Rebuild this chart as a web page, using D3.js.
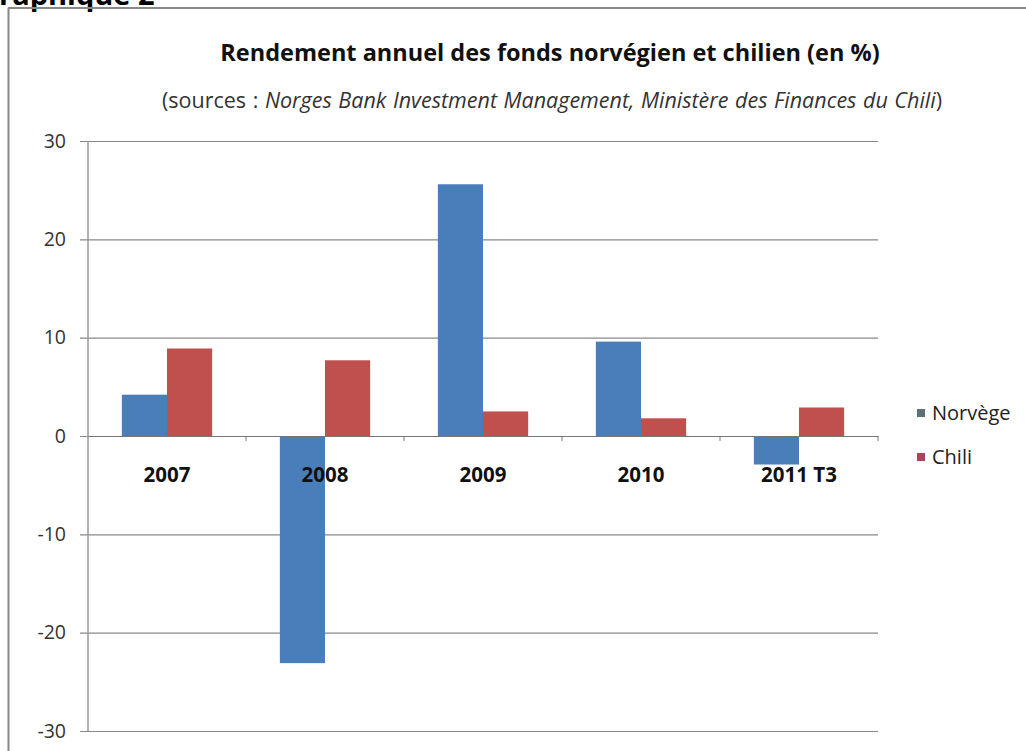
<!DOCTYPE html>
<html>
<head>
<meta charset="utf-8">
<script src="https://cdn.jsdelivr.net/npm/d3@7"></script>
<style>
  html, body { margin: 0; padding: 0; background: #fff; }
  svg { display: block; font-family: "Open Sans", "Lato", sans-serif; }
</style>
</head>
<body>
<svg id="chart" width="1026" height="751"></svg>
<script>
// Annual returns (%) of the Norwegian and Chilean sovereign funds
const categories = ["2007", "2008", "2009", "2010", "2011 T3"];
const seriesNames = ["Norvège", "Chili"];
const norvege = [4.2, -23.1, 25.6, 9.6, -2.9];
const chili = [8.9, 7.7, 2.5, 1.8, 2.9];
const yTicks = [30, 20, 10, 0, -10, -20, -30];

const colors = { "Norvège": "#4a7ebb", "Chili": "#c0504d" };
const legendColors = { "Norvège": "#5d7173", "Chili": "#a8445e" };

const svg = d3.select("#chart");
const plot = { left: 88, right: 878, top: 141, bottom: 731 };

// Outer frame of the figure and the caption above it
svg.append("text")
  .attr("x", -22).attr("y", 5)
  .attr("font-size", 29).attr("font-weight", "bold").attr("fill", "#000")
  .text("Graphique 2");
svg.append("line").attr("x1", 8).attr("x2", 1026).attr("y1", 8).attr("y2", 8)
  .attr("stroke", "#888").attr("stroke-width", 2);
svg.append("line").attr("x1", 8.5).attr("x2", 8.5).attr("y1", 8).attr("y2", 751)
  .attr("stroke", "#888").attr("stroke-width", 2);

// Title and sources
svg.append("text")
  .attr("x", 550).attr("y", 61).attr("text-anchor", "middle")
  .attr("font-size", 23.5).attr("font-weight", "bold").attr("fill", "#111")
  .text("Rendement annuel des fonds norvégien et chilien (en %)");

const sub = svg.append("text")
  .attr("x", 552).attr("y", 108).attr("text-anchor", "middle")
  .attr("font-size", 21.5).attr("word-spacing", 1).attr("fill", "#333");
sub.append("tspan").text("(sources : ");
sub.append("tspan").attr("font-style", "italic").text("Norges Bank Investment Management, Ministère des Finances du Chili");
sub.append("tspan").text(")");

// Scales
const y = d3.scaleLinear().domain([-30, 30]).range([plot.bottom, plot.top]);
const x0 = d3.scaleBand().domain(categories).range([plot.left, plot.right]).paddingInner(0).paddingOuter(0);
// gap width of 150% between groups: bars take 2 / 3.5 of each slot
const inner = 2 / 3.5;
const x1 = d3.scaleBand().domain(seriesNames)
  .range([x0.bandwidth() * (1 - inner) / 2, x0.bandwidth() * (1 + inner) / 2]);

// Horizontal gridlines with the value axis on the left
const yAxis = d3.axisLeft(y).tickValues(yTicks).tickFormat(d => String(d))
  .tickSize(plot.right - plot.left + 8).tickSizeOuter(0).tickPadding(14);
const gy = svg.append("g").attr("transform", `translate(${plot.right},0)`).call(yAxis);
gy.select(".domain").remove();
gy.selectAll(".tick line").attr("stroke", "#888").attr("stroke-width", 1.2);
gy.selectAll(".tick text").attr("font-size", 19.5).attr("fill", "#333")
  .attr("font-family", "'Open Sans', sans-serif");

// Vertical value axis line
svg.append("line").attr("x1", plot.left).attr("x2", plot.left)
  .attr("y1", plot.top).attr("y2", plot.bottom)
  .attr("stroke", "#999").attr("stroke-width", 1.5);

// Bars
const groups = svg.append("g").selectAll("g").data(categories).join("g")
  .attr("transform", d => `translate(${x0(d)},0)`);
groups.selectAll("rect")
  .data((d, i) => [
    { key: "Norvège", value: norvege[i] },
    { key: "Chili", value: chili[i] }
  ])
  .join("rect")
  .attr("x", d => x1(d.key))
  .attr("width", x1.bandwidth())
  .attr("y", d => y(Math.max(0, d.value)))
  .attr("height", d => Math.abs(y(d.value) - y(0)))
  .attr("fill", d => colors[d.key]);

// Category axis through zero with separator ticks
const xAxis = d3.axisBottom(x0).tickSize(0).tickPadding(31).tickSizeOuter(0);
const gx = svg.append("g").attr("transform", `translate(0,${y(0)})`).call(xAxis);
gx.select(".domain").attr("stroke", "#777").attr("stroke-width", 1.2);
gx.selectAll(".tick text").attr("font-size", 20.5).attr("font-weight", "bold").attr("fill", "#111")
  .attr("font-family", "'Open Sans', sans-serif");
svg.append("g").selectAll("line").data(categories.slice(1).concat(["end"])).join("line")
  .attr("x1", (d, i) => plot.left + (i + 1) * x0.step())
  .attr("x2", (d, i) => plot.left + (i + 1) * x0.step())
  .attr("y1", y(0)).attr("y2", y(0) + 5)
  .attr("stroke", "#777").attr("stroke-width", 1);

// Legend
const legend = svg.append("g").selectAll("g").data(seriesNames).join("g")
  .attr("transform", (d, i) => `translate(917,${413 + i * 44})`);
legend.append("rect").attr("x", 0).attr("y", -4).attr("width", 8).attr("height", 8)
  .attr("fill", d => legendColors[d]);
legend.append("text").attr("x", 15).attr("y", 7)
  .attr("font-size", 20).attr("fill", "#222").text(d => d);
</script>
</body>
</html>
